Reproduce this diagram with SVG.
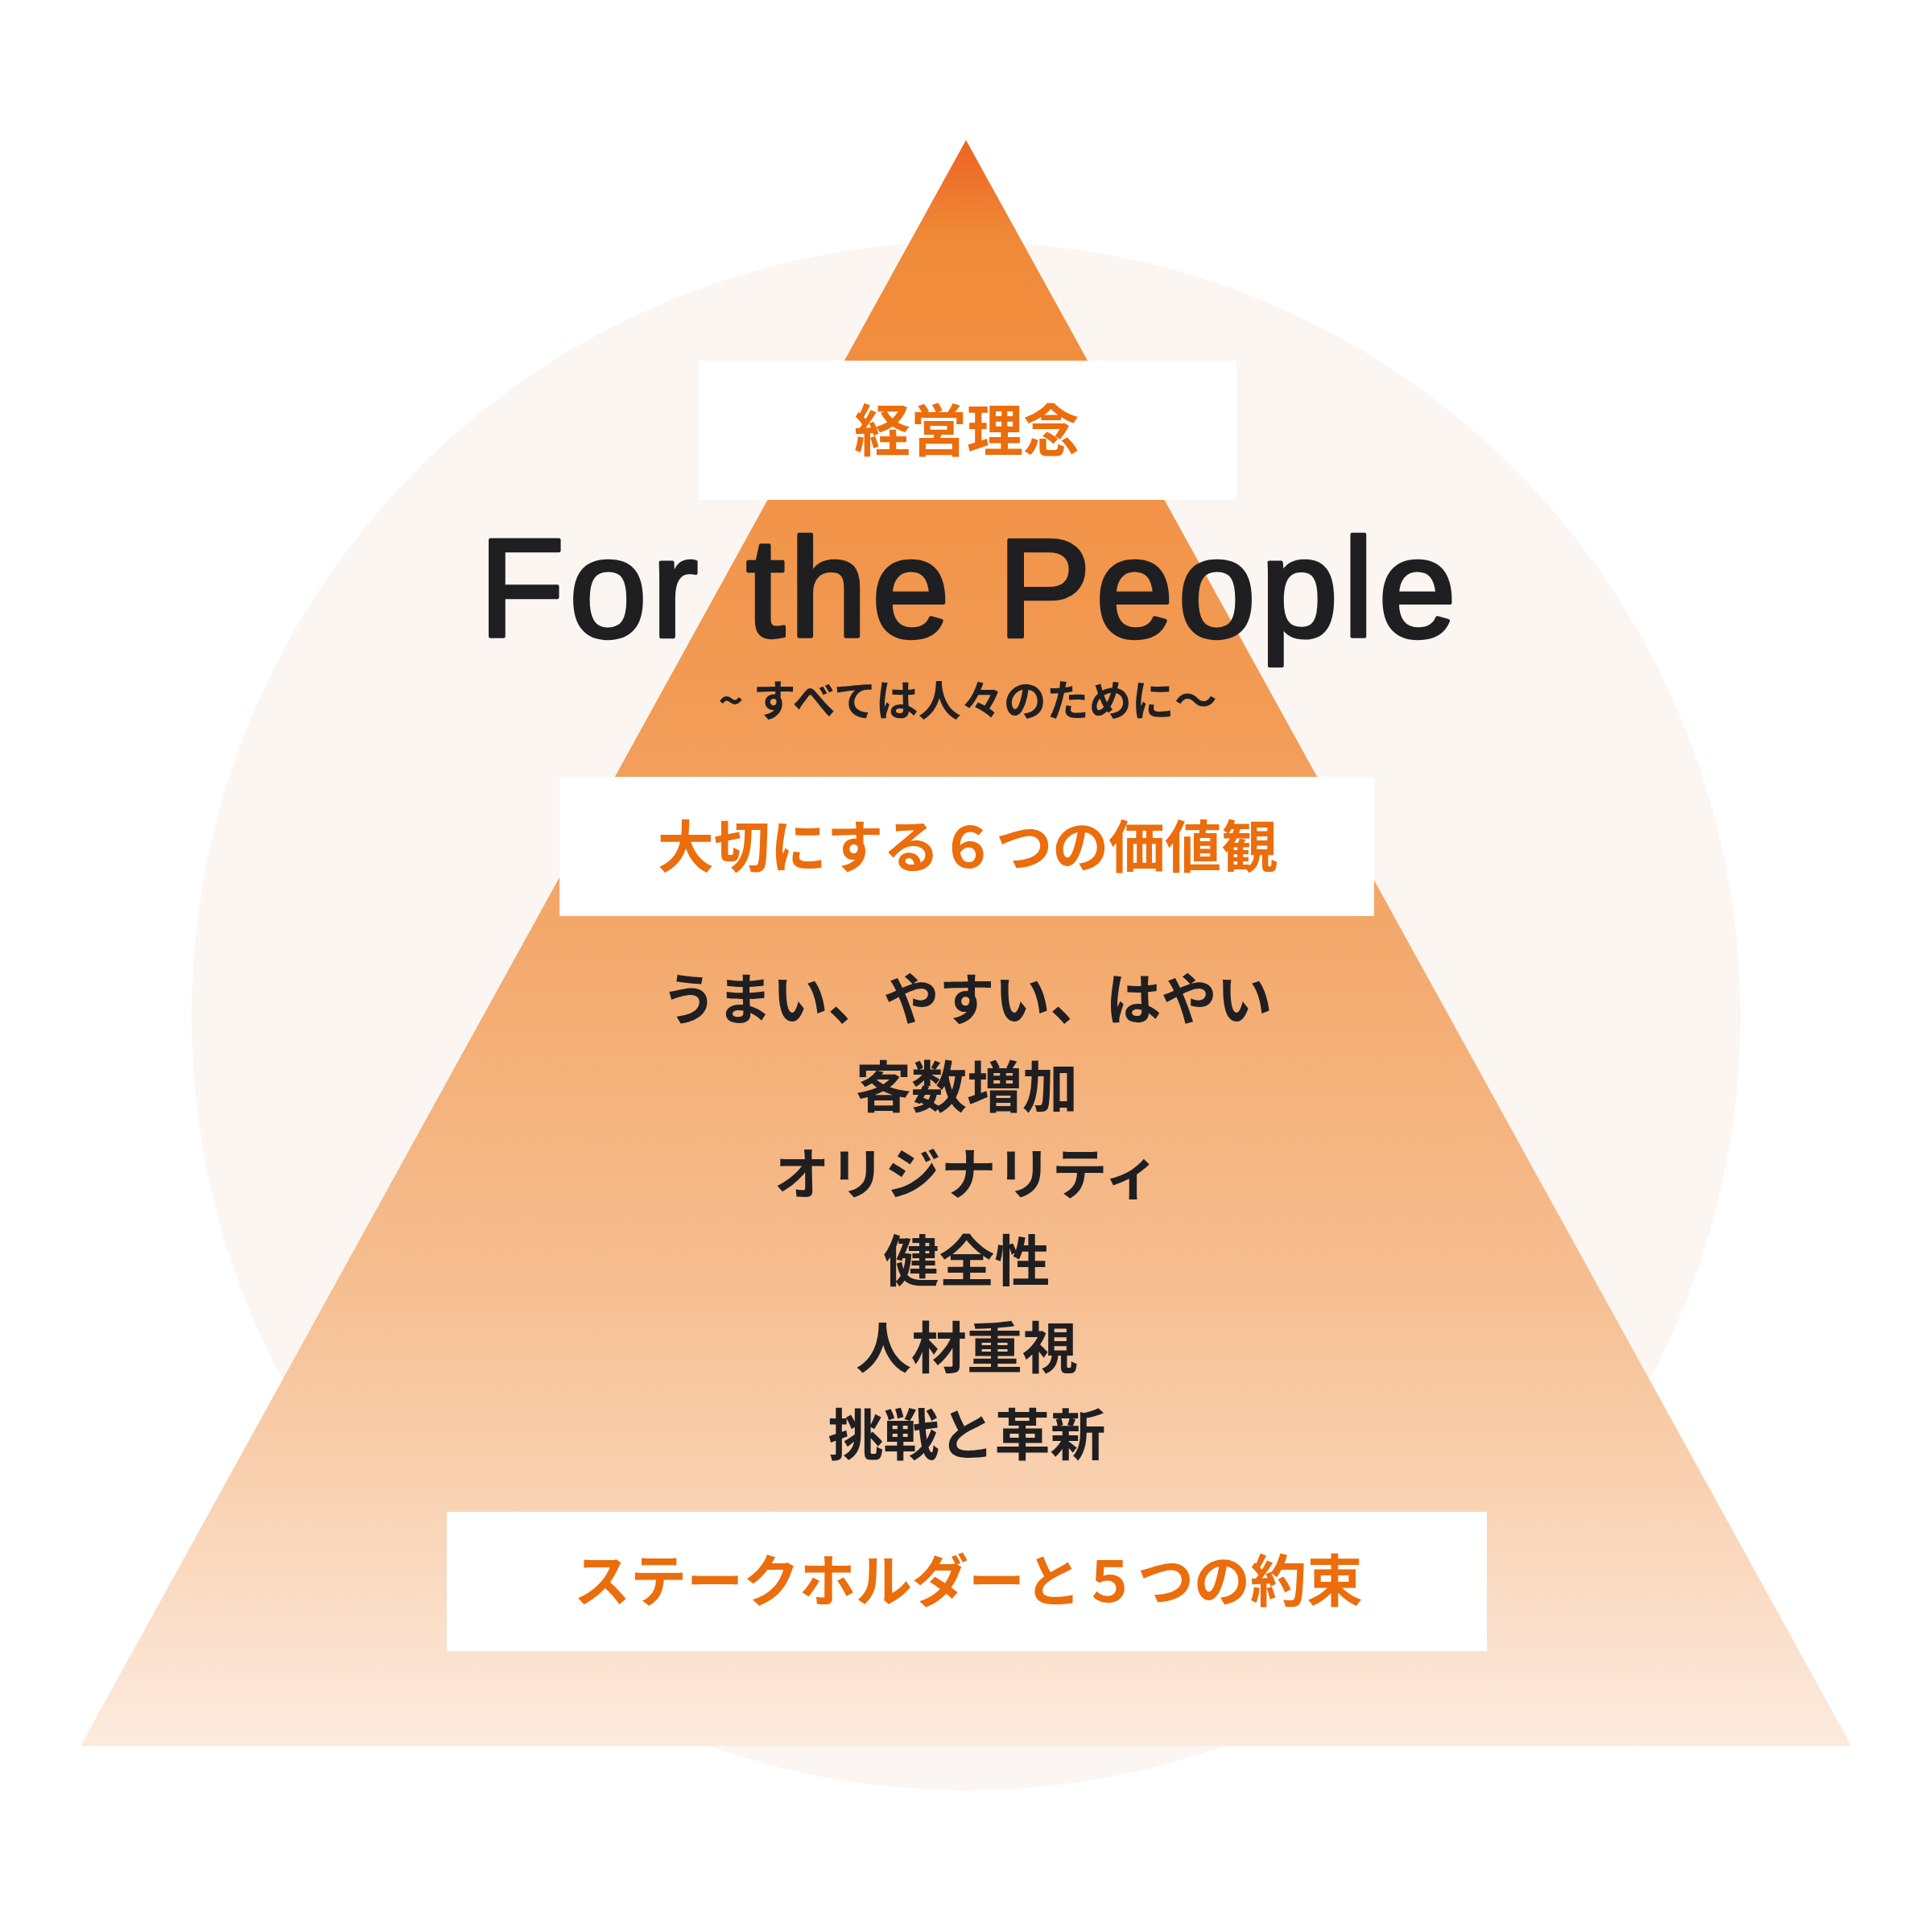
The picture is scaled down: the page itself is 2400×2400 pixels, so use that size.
<svg xmlns="http://www.w3.org/2000/svg" width="2400" height="2400" viewBox="0 0 2400 2400">
  <defs>
    <linearGradient id="pyr" x1="0" y1="174" x2="0" y2="2169" gradientUnits="userSpaceOnUse">
      <stop offset="0" stop-color="#EC6320"/>
      <stop offset="0.06" stop-color="#F08A38"/>
      <stop offset="0.35" stop-color="#F29B55"/>
      <stop offset="0.5" stop-color="#F3A96C"/>
      <stop offset="0.72" stop-color="#F6BF92"/>
      <stop offset="0.85" stop-color="#F9D3B4"/>
      <stop offset="1" stop-color="#FCEBDF"/>
    </linearGradient>
    <style>
      .box { fill: #FFFFFF; }
      .head { font-family: "Noto Sans CJK JP", "Noto Sans CJK SC", sans-serif; font-weight: 700; font-size: 70px; fill: #EB6D0C; text-anchor: middle; }
      .item { font-family: "Noto Sans CJK JP", "Noto Sans CJK SC", sans-serif; font-weight: 700; font-size: 69px; fill: #1F1F22; text-anchor: middle; }
      .title { font-family: "Liberation Sans", Arial, sans-serif; font-size: 174px; fill: #1F1F22; stroke: #1F1F22; stroke-width: 4.5; stroke-linejoin: round; text-anchor: middle; }
      .sub { font-family: "Noto Sans CJK JP", "Noto Sans CJK SC", sans-serif; font-weight: 700; font-size: 53px; fill: #1F1F22; text-anchor: middle; }
    </style>
  </defs>
  <rect x="0" y="0" width="2400" height="2400" fill="#FFFFFF"/>
  <g id="background">
    <circle cx="1200" cy="1262" r="962" fill="#FBF6F2"/>
    <polygon points="1200,174 2300,2169 100,2169" fill="url(#pyr)"/>
  </g>
  <g id="node-philosophy">
    <rect class="box" x="868" y="448" width="668" height="173"/>
    <text class="head" x="1201" y="561" font-size="68">経営理念</text>
  </g>
  <g id="node-title">
    <text class="title" x="1202" y="791" textLength="1214" lengthAdjust="spacing">For the People</text>
    <text class="sub" x="1202" y="890">~ すべては人々のために～</text>
  </g>
  <g id="node-values">
    <rect class="box" x="695" y="965" width="1012" height="173"/>
    <text class="head" x="1202" y="1078">大切にする６つの価値観</text>
  </g>
  <g id="node-value-list">
    <text class="item" x="1201" y="1267">うまい、やすい、はやい</text>
    <text class="item" x="1201" y="1376">客数増加</text>
    <text class="item" x="1201" y="1484">オリジナリティ</text>
    <text class="item" x="1201" y="1592">健全性</text>
    <text class="item" x="1201" y="1700">人材重視</text>
    <text class="item" x="1201" y="1808">挑戦と革新</text>
  </g>
  <g id="node-promises">
    <rect class="box" x="555" y="1878" width="1292" height="173"/>
    <text class="head" x="1203" y="1990">ステークホルダーと５つの約束</text>
  </g>
  <g id="connectors"></g>
</svg>
